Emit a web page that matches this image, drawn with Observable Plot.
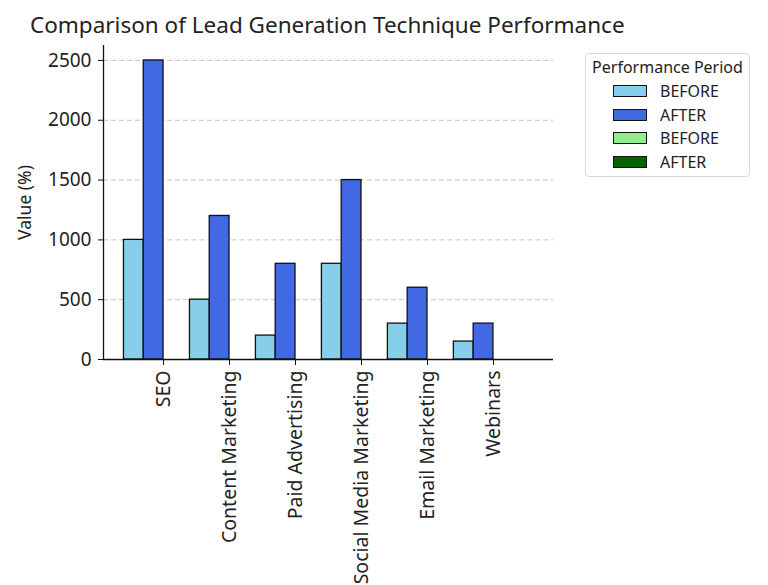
<!DOCTYPE html>
<html>
<head>
<meta charset="utf-8">
<script src="https://cdn.jsdelivr.net/npm/d3@7"></script>
<script src="https://cdn.jsdelivr.net/npm/@observablehq/plot@0.6"></script>
<style>
  html, body { margin: 0; padding: 0; background: #fff; }
  body { width: 768px; height: 585px; position: relative; overflow: hidden; font-family: "Noto Sans", "Open Sans", sans-serif; color: #222; }
  #title { position: absolute; left: 30px; top: 9px; font-size: 22.5px; white-space: nowrap; }
  #chart { position: absolute; left: 0; top: 40px; }
  #legend { position: absolute; left: 585px; top: 53px; width: 165px; height: 124px; border: 1px solid #d9d9d9; border-radius: 4px; box-sizing: border-box; background: #fff; }
  #legend .lt { position: absolute; left: 0; width: 100%; top: 2px; text-align: center; font-size: 16px; }
  #legend .row { position: absolute; left: 27px; height: 20px; display: flex; align-items: center; font-size: 16px; }
  #legend .sw { width: 34px; height: 12px; border: 1.2px solid #111; margin-right: 13px; box-sizing: border-box; }
</style>
</head>
<body>
<div id="title">Comparison of Lead Generation Technique Performance</div>
<div id="chart"></div>
<div id="legend"></div>
<script>
const categories = ["SEO", "Content Marketing", "Paid Advertising", "Social Media Marketing", "Email Marketing", "Webinars"];
const beforeBlue = [1000, 500, 200, 800, 300, 150];
const afterBlue = [2500, 1200, 800, 1500, 600, 300];
const beforeGreen = [0, 0, 0, 0, 0, 0];
const afterGreen = [0, 0, 0, 0, 0, 0];
const seriesLabels = ["BEFORE", "AFTER", "BEFORE", "AFTER"];
const seriesColors = ["#87CEEB", "#4169E1", "#90EE90", "#006400"];
const yTicks = [0, 500, 1000, 1500, 2000, 2500];
const legendTitle = "Performance Period";
const yLabel = "Value (%)";

const seriesValues = [beforeBlue, afterBlue, beforeGreen, afterGreen];
const barWidth = 0.3;
const offsets = [-0.45, -0.15, 0.15, 0.45];
const table = [];
seriesValues.forEach((vals, s) => {
  vals.forEach((v, i) => {
    table.push({i, s, value: v, x1: i + offsets[s] - barWidth / 2, x2: i + offsets[s] + barWidth / 2, color: seriesColors[s]});
  });
});
const xmin = -0.6, xmax = categories.length - 1 + 0.6;
const xpad = (xmax - xmin) * 0.05;
const ymax = 2500 * 1.05;

const plot = Plot.plot({
  width: 768,
  height: 545,
  marginTop: 5,
  marginLeft: 103,
  marginRight: 215,
  marginBottom: 226,
  style: {fontFamily: "'Noto Sans', 'Open Sans', sans-serif", fontSize: "18px", color: "#222", background: "transparent"},
  x: {type: "linear", domain: [xmin - xpad, xmax + xpad]},
  y: {domain: [0, ymax]},
  color: {type: "identity"},
  marks: [
    Plot.gridY(yTicks.slice(1), {stroke: "#b8b8b8", strokeOpacity: 0.8, strokeDasharray: "5,3", strokeWidth: 1}),
    Plot.rect(table, {x1: "x1", x2: "x2", y1: 0, y2: "value", fill: "color", stroke: "#111", strokeWidth: 1.3}),
    Plot.ruleY([0], {stroke: "#111", strokeWidth: 1.3}),
    Plot.ruleX([xmin - xpad], {stroke: "#111", strokeWidth: 1.3}),
    Plot.axisY(yTicks, {tickSize: 5, tickPadding: 7, fontSize: 19, tickFormat: d => String(d), label: null, stroke: "#111"}),
    Plot.text([yLabel], {frameAnchor: "left", dx: -78, rotate: -90, fontSize: 17.5, textAnchor: "middle", fill: "#222"}),
    Plot.axisX(d3.range(categories.length), {tickFormat: i => categories[i], tickRotate: -90, tickSize: 6, tickPadding: 5, fontSize: 19.5, label: null, stroke: "#111"})
  ]
});
document.getElementById("chart").appendChild(plot);

const legend = document.getElementById("legend");
const lt = document.createElement("div");
lt.className = "lt";
lt.textContent = legendTitle;
legend.appendChild(lt);
seriesLabels.forEach((lab, k) => {
  const row = document.createElement("div");
  row.className = "row";
  row.style.top = (27 + k * 23.5) + "px";
  const sw = document.createElement("div");
  sw.className = "sw";
  sw.style.background = seriesColors[k];
  const tx = document.createElement("span");
  tx.textContent = lab;
  row.appendChild(sw);
  row.appendChild(tx);
  legend.appendChild(row);
});
</script>
</body>
</html>
